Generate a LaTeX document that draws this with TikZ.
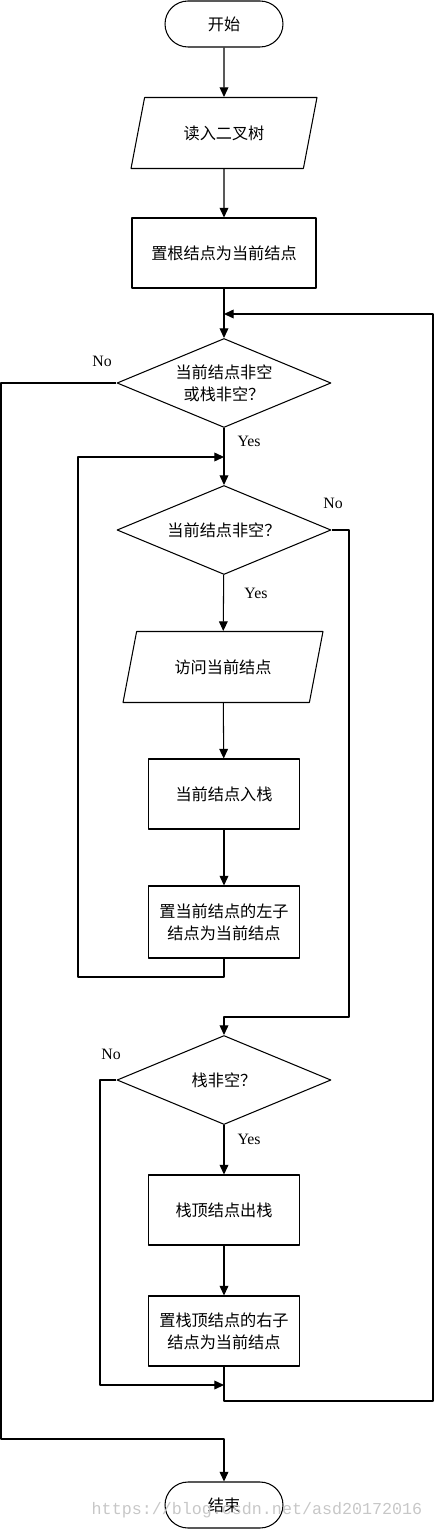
\documentclass[tikz,border=0pt]{standalone}
\usepackage{fontspec}
\setmainfont{Liberation Serif}
\newfontfamily\cjk{Noto Sans CJK SC}
\newfontfamily\wmfont{Liberation Mono}
\usetikzlibrary{shapes.geometric,arrows.meta}
\newcommand{\boxfont}{\fontsize{9.2}{12.5}\selectfont\cjk}

\begin{document}
\begin{tikzpicture}[x=0.02cm,y=-0.02cm,line join=round,line width=0.6pt,
  >={Triangle[length=5.5pt,width=5pt]},
  term/.style={draw,rectangle,rounded corners=0.46cm,minimum width=2.36cm,minimum height=0.92cm,font=\boxfont},
  io/.style={draw,trapezium,trapezium left angle=63,trapezium right angle=117,trapezium stretches body,minimum height=1.42cm,font=\boxfont},
  proc/.style={draw,rectangle,minimum width=3.02cm,minimum height=1.4cm,align=center,font=\boxfont},
  decide/.style={draw,diamond,aspect=2.4,minimum width=4.28cm,minimum height=1.78cm,inner sep=0pt,align=center,font=\boxfont},
  lab/.style={font=\fontsize{9}{11}\selectfont}]
\useasboundingbox (0,0) rectangle (434,1530);

    \node[term] (start) at (224,24) {开始};
    \node[io,minimum width=3.72cm] (read) at (224,133) {读入二叉树};
    \node[proc,minimum width=3.68cm] (root) at (224,253) {置根结点为当前结点};
    \node[decide] (dec1) at (224,383) {当前结点非空\\或栈非空？};
    \node[decide] (dec2) at (224,530) {当前结点非空？};
    \node[io,minimum width=4cm] (visit) at (223,667) {访问当前结点};
    \node[proc] (push) at (224,794) {当前结点入栈};
    \node[proc,minimum height=1.44cm] (setL) at (224,922) {置当前结点的左子\\结点为当前结点};
    \node[decide] (dec3) at (224,1080) {栈非空？};
    \node[proc] (pop) at (224,1210) {栈顶结点出栈};
    \node[proc] (setR) at (224,1331) {置栈顶结点的右子\\结点为当前结点};
    \node[term] (stop) at (224,1505) {结束};

    \coordinate (j1) at (224,314);
    \coordinate (j2) at (224,457);
    \coordinate (j3) at (224,1385);
    \coordinate (r1) at (433,1401);
    \coordinate (r2) at (349,1017);
    \coordinate (l0) at (1,1439);
    \coordinate (l2) at (78,977);
    \coordinate (l3) at (100,1385);

\draw[->](start)--(read);
\draw[->](read)--(root);
\draw[->](root)--(dec1);
\draw[->](dec1)--(dec2);
\draw[->](dec2)--(visit);
\draw[->](visit)--(push);
\draw[->](push)--(setL);
\draw[->](dec3)--(pop);
\draw[->](pop)--(setR);
\draw[->](setR.south)|-(r1)|-(j1);
\draw[->](setL.south)|-(l2)|-(j2);
\draw[->](dec1.west)-|(l0)-|(stop.north);
\draw[->](dec2.east)-|(r2)-|(dec3.north);
\draw[->](dec3.west)-|(l3)--(j3);

    \node[lab] (no1) at (102,361) {No};
    \node[lab] (yes1) at (249,441) {Yes};
    \node[lab] (no2) at (333,503) {No};
    \node[lab] (yes2) at (256,593) {Yes};
    \node[lab] (no3) at (111,1054) {No};
    \node[lab] (yes3) at (249,1139) {Yes};
    \node[font=\fontsize{9.5}{11}\selectfont\wmfont,text=black!22] (mark) at (257,1510) {https://blog.csdn.net/asd20172016};
  \end{tikzpicture}
\end{document}
